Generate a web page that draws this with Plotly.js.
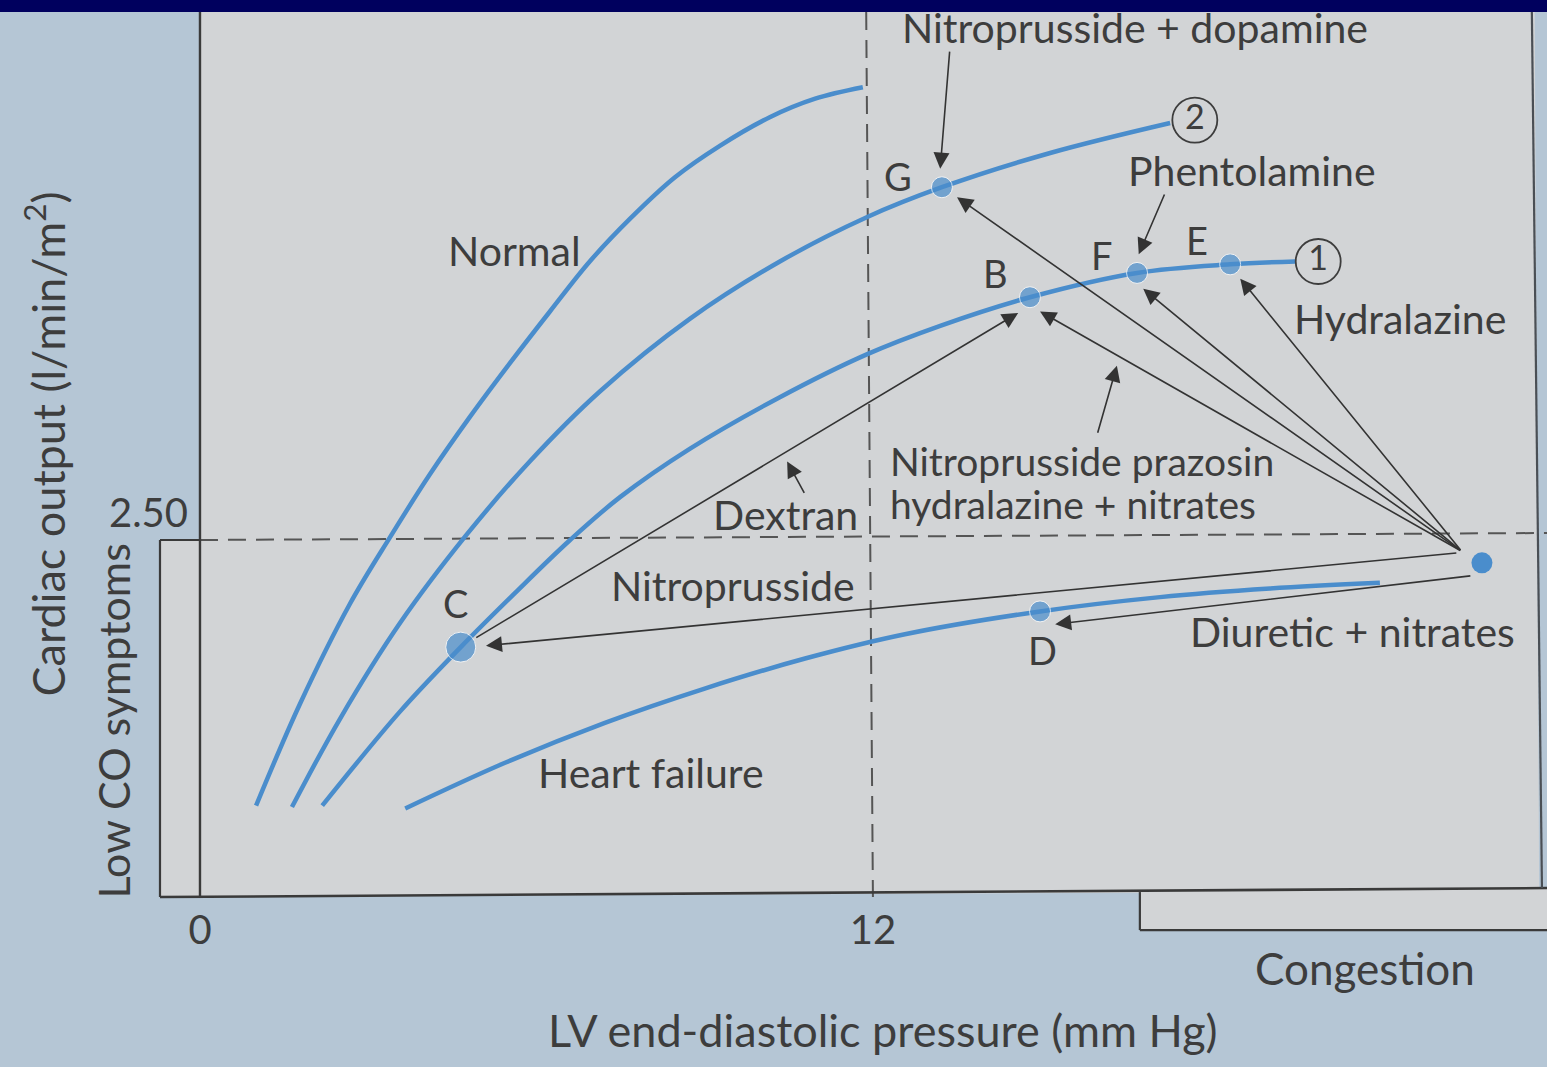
<!DOCTYPE html>
<html><head><meta charset="utf-8">
<script src="https://cdn.plot.ly/plotly-3.0.1.min.js"></script>
<style>html,body{margin:0;padding:0;background:#b5c6d5;} #chart{width:1547px;height:1067px;}</style>
</head><body><div id="chart"></div>
<script>
// Ventricular function curves: x = LV end-diastolic pressure (mm Hg), y = cardiac output (l/min/m2)
const normalX  = [1.00, 1.78, 2.67, 3.39, 4.10, 4.81, 5.53, 6.24, 6.95, 7.67, 8.47, 9.27, 10.16, 10.97, 11.82];
const normalY  = [0.64, 1.35, 2.05, 2.52, 2.96, 3.36, 3.74, 4.10, 4.45, 4.75, 5.04, 5.26, 5.46, 5.59, 5.67];
const curve2X  = [1.64, 2.50, 3.57, 4.74, 5.88, 7.13, 8.74, 10.34, 11.89, 13.23, 15.16, 17.30];
const curve2Y  = [0.63, 1.25, 1.92, 2.53, 3.05, 3.54, 4.05, 4.45, 4.76, 4.97, 5.21, 5.42];
const curve1X  = [2.18, 3.57, 4.65, 5.62, 6.60, 7.49, 8.74, 10.34, 11.89, 13.20, 14.80, 16.71, 18.37, 19.53];
const curve1Y  = [0.64, 1.30, 1.75, 2.13, 2.50, 2.80, 3.14, 3.50, 3.80, 4.00, 4.20, 4.37, 4.43, 4.45];
const failureX = [3.66, 5.44, 7.22, 9.00, 10.79, 12.57, 14.98, 17.12, 19.08, 21.04];
const failureY = [0.62, 0.94, 1.22, 1.46, 1.67, 1.84, 2.00, 2.10, 2.16, 2.20];

// Labelled states on the curves
const pointLabels = ['G', 'B', 'F', 'E', 'C', 'D'];
const pointX = [13.23, 14.80, 16.71, 18.37, 4.65, 14.98];
const pointY = [4.97, 4.20, 4.37, 4.43, 1.75, 2.00];
// Starting state (untreated)
const startX = [22.86];
const startY = [2.34];
// Curve end markers
const circleLabels = ['1', '2'];
const circleX = [19.94, 17.74];
const circleY = [4.45, 5.44];

// Treatment arrows (tail -> tip)
const arrowTailX = [22.50, 22.50, 22.50, 22.50, 4.90, 22.43, 22.68, 17.21, 13.37, 10.79, 16.00];
const arrowTailY = [2.42, 2.42, 2.42, 2.42, 1.81, 2.41, 2.25, 4.93, 5.93, 2.82, 3.24];
const arrowTipX  = [13.50, 14.98, 16.82, 18.55, 14.59, 5.10, 15.25, 16.74, 13.20, 10.47, 16.35];
const arrowTipY  = [4.90, 4.10, 4.26, 4.33, 4.09, 1.76, 1.91, 4.50, 5.10, 3.05, 3.72];

// Axis ticks
const xTickVals = [0, 12];
const xTickText = ['0', '12'];
const yTickVals = [2.5];
const yTickText = ['2.50'];

const BLUE = '#4a8dcc';
const PANEL = '#d2d4d6';
const INK = '#3d3d3d';
const FONT = 'Lato, "Open Sans", sans-serif';

const curveStyle = {color: BLUE, width: 4.5, shape: 'spline', smoothing: 1};
const traces = [
  {x: normalX, y: normalY, mode: 'lines', line: curveStyle},
  {x: curve2X, y: curve2Y, mode: 'lines', line: curveStyle},
  {x: curve1X, y: curve1Y, mode: 'lines', line: curveStyle},
  {x: failureX, y: failureY, mode: 'lines', line: curveStyle},
  {x: pointX, y: pointY, mode: 'markers',
   marker: {color: BLUE, size: pointLabels.map(l => l === 'C' ? 30 : 21)}},
  {x: startX, y: startY, mode: 'markers', marker: {color: BLUE, size: 21}},
  {x: circleX, y: circleY, mode: 'markers+text', text: circleLabels,
   textposition: 'middle center', textfont: {family: FONT, size: 34, color: INK},
   marker: {color: PANEL, size: 45, line: {color: INK, width: 1.8}}}
];

const annotations = [];
for (let i = 0; i < arrowTailX.length; i++) {
  annotations.push({x: arrowTipX[i], y: arrowTipY[i], ax: arrowTailX[i], ay: arrowTailY[i],
    xref: 'x', yref: 'y', axref: 'x', ayref: 'y', text: '', showarrow: true,
    arrowhead: 2, arrowsize: 2.0, arrowwidth: 1.6, arrowcolor: '#333', standoff: 0, startstandoff: 0});
}
const letterShift = {G: [-44, 11], B: [-34, 24], F: [-35, 18], E: [-33, 24], C: [-5, 44], D: [2, -39]};
pointLabels.forEach((l, i) => {
  annotations.push({x: pointX[i], y: pointY[i], xref: 'x', yref: 'y', text: l, showarrow: false,
    xshift: letterShift[l][0], yshift: letterShift[l][1], font: {family: FONT, size: 38, color: INK}});
});
function lab(text, x, y, size, opts) {
  annotations.push(Object.assign({x: x, y: y, xref: 'x', yref: 'y', text: text, showarrow: false,
    font: {family: FONT, size: size, color: INK}}, opts || {}));
}
lab('Nitroprusside + dopamine', 16.67, 6.09, 41);
lab('Phentolamine', 18.76, 5.09, 41);
lab('Normal', 5.60, 4.53, 41);
lab('Hydralazine', 21.40, 4.05, 41);
lab('Nitroprusside prazosin', 12.27, 3.05, 39, {xanchor: 'left'});
lab('hydralazine + nitrates', 12.27, 2.75, 39, {xanchor: 'left'});
lab('Dextran', 11.77, 2.68, 41, {xanchor: 'right'});
lab('Nitroprusside', 9.50, 2.18, 41);
lab('Diuretic + nitrates', 20.56, 1.86, 41);
lab('Heart failure', 8.04, 0.87, 41);
lab('Congestion', 20.77, -0.50, 44);
lab('LV end-diastolic pressure (mm Hg)', 12.18, -0.93, 45);
lab('Cardiac output (l/min/m<sup>2</sup>)', -2.76, 3.17, 45, {textangle: -90});
lab('Low CO symptoms', -1.55, 1.23, 43, {textangle: -90});

const LINE = '#3a3a3a';
const shapes = [
  // diagram panel
  {type: 'path', layer: 'below', line: {width: 0}, fillcolor: PANEL,
   path: 'M 0,6.30 L 23.80,6.30 L 23.88,0.063 L 24.05,0.063 L 24.05,-0.231 L 16.76,-0.231 L 16.76,0.03 L -0.713,0.0 L -0.713,2.5 L 0,2.5 Z'},
  // threshold lines
  {type: 'line', layer: 'below', x0: 0, y0: 2.5, x1: 24.05, y1: 2.549, line: {color: '#555', width: 2, dash: '18px,10px'}},
  {type: 'line', layer: 'below', x0: 11.88, y0: 6.197, x1: 12.0, y1: 0, line: {color: '#555', width: 2, dash: '18px,10px'}},
  // frame
  {type: 'line', layer: 'below', x0: 0, y0: 0, x1: 0, y1: 6.197, line: {color: LINE, width: 2.4}},
  {type: 'line', layer: 'below', x0: -0.713, y0: 2.5, x1: 0, y1: 2.5, line: {color: LINE, width: 2.2}},
  {type: 'line', layer: 'below', x0: -0.713, y0: 2.5, x1: -0.713, y1: 0, line: {color: LINE, width: 2.2}},
  {type: 'line', layer: 'below', x0: -0.713, y0: 0, x1: 24.05, y1: 0.063, line: {color: LINE, width: 2.6}},
  {type: 'line', layer: 'below', x0: 16.76, y0: 0.035, x1: 16.76, y1: -0.231, line: {color: LINE, width: 2.2}},
  {type: 'line', layer: 'below', x0: 16.76, y0: -0.231, x1: 24.05, y1: -0.231, line: {color: LINE, width: 2.2}},
  {type: 'line', layer: 'below', x0: 23.75, y0: 6.197, x1: 23.93, y1: 0.063, line: {color: '#4a4f55', width: 2.2}},
  // top slide band
  {type: 'rect', layer: 'above', xref: 'paper', yref: 'paper', x0: 0, x1: 1, y0: 1 - 12 / 1067, y1: 1,
   line: {width: 0}, fillcolor: '#00005e'}
];

const layout = {
  width: 1547, height: 1067,
  margin: {l: 0, r: 0, t: 0, b: 0},
  paper_bgcolor: '#b5c6d5', plot_bgcolor: '#b5c6d5',
  showlegend: false, hovermode: false,
  xaxis: {range: [-3.566, 24.02], anchor: 'free', position: (1067 - 897) / 1067,
    showgrid: false, zeroline: false, showline: false, ticks: '',
    tickmode: 'array', tickvals: xTickVals, ticktext: xTickText, ticklabelstandoff: 6,
    tickfont: {family: FONT, size: 40, color: INK}},
  yaxis: {range: [-1.190, 6.281], anchor: 'free', position: 200 / 1547,
    showgrid: false, zeroline: false, showline: false, ticks: '',
    tickmode: 'array', tickvals: yTickVals, ticktext: yTickText, ticklabelstandoff: 12, ticklabelshift: -27,
    tickfont: {family: FONT, size: 40, color: INK}},
  annotations: annotations,
  shapes: shapes
};

Plotly.newPlot('chart', traces, layout, {staticPlot: true, displayModeBar: false});
</script>
</body></html>
